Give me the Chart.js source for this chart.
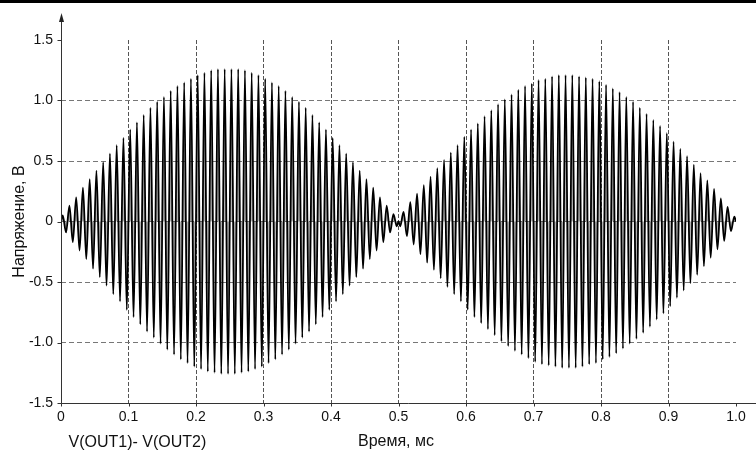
<!DOCTYPE html>
<html>
<head>
<meta charset="utf-8">
<script src="https://cdn.jsdelivr.net/npm/chart.js@4.4.1/dist/chart.umd.min.js"></script>
<style>
  html, body { margin: 0; padding: 0; background: #fff; }
</style>
</head>
<body>
<canvas id="chart" width="756" height="450"></canvas>
<script>
const seriesLabel = 'V(OUT1)- V(OUT2)';
const xTitle = 'Время, мс';
const yTitle = 'Напряжение, В';

const xTickLabels = ['0', '0.1', '0.2', '0.3', '0.4', '0.5', '0.6', '0.7', '0.8', '0.9', '1.0'];
const yTickLabels = ['-1.5', '-1.0', '-0.5', '0', '0.5', '1.0', '1.5'];

// carrier peaks and troughs: one every half period (0.005 ms)
const halfPeriod = 0.005;

const lobe1Start = 0.0025;
const lobe1 = [
  0.05, -0.09, 0.13, -0.17, 0.20, -0.24, 0.28, -0.31, 0.35, -0.39,
  0.42, -0.46, 0.49, -0.53, 0.56, -0.60, 0.63, -0.66, 0.69, -0.73,
  0.76, -0.79, 0.82, -0.85, 0.88, -0.91, 0.94, -0.96, 0.99, -1.01,
  1.03, -1.06, 1.08, -1.10, 1.12, -1.14, 1.15, -1.17, 1.18, -1.20,
  1.21, -1.22, 1.23, -1.24, 1.25, -1.25, 1.26, -1.26, 1.26, -1.26,
  1.26, -1.26, 1.26, -1.25, 1.25, -1.24, 1.23, -1.22, 1.21, -1.20,
  1.18, -1.17, 1.15, -1.14, 1.12, -1.10, 1.08, -1.06, 1.03, -1.01,
  0.99, -0.96, 0.94, -0.91, 0.88, -0.85, 0.82, -0.79, 0.76, -0.73,
  0.69, -0.66, 0.63, -0.60, 0.56, -0.53, 0.49, -0.46, 0.42, -0.39,
  0.35, -0.31, 0.28, -0.24, 0.20, -0.17, 0.13, -0.09, 0.06, -0.04
];

const lobe2Start = 0.5025;
const lobe2 = [
  -0.04, 0.08, -0.12, 0.16, -0.19, 0.23, -0.27, 0.30, -0.34, 0.37,
  -0.40, 0.44, -0.47, 0.51, -0.54, 0.57, -0.60, 0.63, -0.66, 0.70,
  -0.73, 0.76, -0.79, 0.81, -0.84, 0.87, -0.89, 0.92, -0.94, 0.97,
  -0.99, 1.01, -1.03, 1.05, -1.07, 1.09, -1.10, 1.12, -1.13, 1.14,
  -1.16, 1.17, -1.18, 1.18, -1.19, 1.20, -1.20, 1.21, -1.21, 1.21,
  -1.21, 1.21, -1.21, 1.20, -1.20, 1.19, -1.18, 1.18, -1.17, 1.16,
  -1.14, 1.13, -1.12, 1.10, -1.09, 1.07, -1.05, 1.03, -1.01, 0.99,
  -0.97, 0.94, -0.92, 0.89, -0.87, 0.84, -0.81, 0.79, -0.76, 0.73,
  -0.70, 0.66, -0.63, 0.60, -0.57, 0.54, -0.51, 0.47, -0.44, 0.40,
  -0.37, 0.34, -0.30, 0.27, -0.23, 0.19, -0.16, 0.12, -0.08, 0.04
];

// envelope nodes, where the signal passes through zero
const nodeTimes = [0, 0.5, 1.0];


function lobePoints(start, values) {
    return values.map((v, i) => ({x: start + i * halfPeriod, y: v}));
}

function getPoints() {
    return [
        {x: nodeTimes[0], y: 0},
        ...lobePoints(lobe1Start, lobe1),
        {x: nodeTimes[1], y: 0},
        ...lobePoints(lobe2Start, lobe2),
        {x: nodeTimes[2], y: 0}
    ];
}


Chart.defaults.font.family = "'Liberation Sans', Arial, sans-serif";
Chart.defaults.color = '#111';

// axes with the arrow, small ticks, titles
const decor = {
    id: 'decor',
    beforeDraw(chart) {
        const ctx = chart.ctx;
        ctx.save();
        ctx.fillStyle = '#fff';
        ctx.fillRect(0, 0, chart.width, chart.height);
        ctx.fillStyle = '#000';
        ctx.fillRect(0, 0, chart.width, 3);
        ctx.restore();
    },
    afterDraw(chart) {
        const {ctx, chartArea, scales} = chart;
        const xs = scales.x, ys = scales.y;
        const x0 = Math.round(xs.getPixelForValue(0)) + 0.5;
        const yb = Math.round(ys.getPixelForValue(-1.5)) + 0.5;

        ctx.save();
        ctx.strokeStyle = '#333';
        ctx.lineWidth = 1;
        ctx.beginPath();
        ctx.moveTo(x0, yb);
        ctx.lineTo(x0, 20);
        ctx.moveTo(x0, yb);
        ctx.lineTo(chart.width, yb);
        xs.ticks.forEach(t => {
            const px = Math.round(xs.getPixelForValue(t.value)) + 0.5;
            ctx.moveTo(px, yb);
            ctx.lineTo(px, yb + 3);
        });
        ys.ticks.forEach(t => {
            const py = Math.round(ys.getPixelForValue(t.value)) + 0.5;
            ctx.moveTo(x0 - 4, py);
            ctx.lineTo(x0, py);
        });
        ctx.stroke();

        ctx.fillStyle = '#222';
        ctx.beginPath();
        ctx.moveTo(x0, 13);
        ctx.lineTo(x0 - 2.5, 22);
        ctx.lineTo(x0 + 2.5, 22);
        ctx.closePath();
        ctx.fill();

        ctx.fillStyle = '#111';
        ctx.font = "16px 'Liberation Sans', Arial, sans-serif";
        ctx.textBaseline = 'alphabetic';
        ctx.textAlign = 'left';
        ctx.fillText(seriesLabel, x0 + 7, 447);
        ctx.textAlign = 'center';
        ctx.fillText(xTitle, 396, 446);

        ctx.translate(24, (chartArea.top + chartArea.bottom) / 2);
        ctx.rotate(-Math.PI / 2);
        ctx.fillText(yTitle, 0, 0);
        ctx.restore();
    }
};


function getConfig() {
    return {
        type: 'line',
        data: {
            datasets: [{
                label: seriesLabel,
                data: getPoints(),
                borderColor: '#000',
                borderWidth: 1.8,
                backgroundColor: 'rgba(0,0,0,0.3)',
                fill: 'origin',
                pointRadius: 0,
                cubicInterpolationMode: 'monotone'
            }]
        },
        options: {
            responsive: false,
            animation: false,
            layout: {padding: {top: 40, right: 20, left: 0, bottom: 0}},
            plugins: {
                legend: {display: false},
                tooltip: {enabled: false}
            },
            scales: {
                x: {
                    type: 'linear',
                    min: 0,
                    max: 1,
                    afterFit: s => { s.height = 47; },
                    ticks: {
                        stepSize: 0.1,
                        autoSkip: false,
                        maxRotation: 0,
                        padding: 6,
                        font: {size: 14},
                        callback: (v, i) => xTickLabels[i]
                    },
                    grid: {
                        drawTicks: false,
                        lineWidth: 1,
                        color: c => (c.tick && c.tick.value > 0.05 && c.tick.value < 0.95) ? '#555' : 'rgba(0,0,0,0)'
                    },
                    border: {display: false, dash: [4, 2]}
                },
                y: {
                    min: -1.5,
                    max: 1.5,
                    afterFit: s => { s.width = 61; },
                    ticks: {
                        stepSize: 0.5,
                        padding: 8,
                        font: {size: 14},
                        callback: (v, i) => yTickLabels[i]
                    },
                    grid: {
                        drawTicks: false,
                        lineWidth: 1,
                        color: c => (c.tick && Math.abs(c.tick.value) < 1.25) ? '#777' : 'rgba(0,0,0,0)'
                    },
                    border: {display: false, dash: [5, 3]}
                }
            }
        },
        plugins: [decor]
    };
}


function drawChart(elementId) {
    return new Chart(document.getElementById(elementId), getConfig());
}

drawChart('chart');
</script>
</body>
</html>
